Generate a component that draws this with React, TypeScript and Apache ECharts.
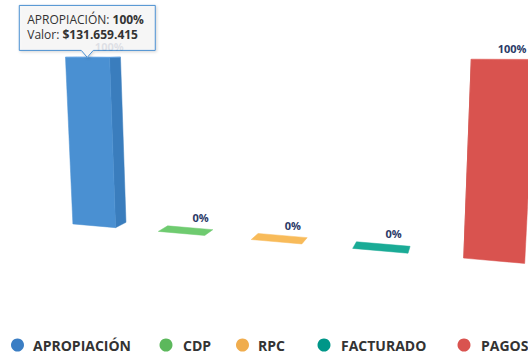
import React, { useEffect, useRef } from 'react';
import * as echarts from 'echarts';

// ---- data ----
const categories = ['APROPIACIÓN', 'CDP', 'RPC', 'FACTURADO', 'PAGOS'];
const percentValues = [100, 0, 0, 0, 100];
const tooltipIndex = 0;
const tooltipAmount = '$131.659.415';

// ---- palette ----
const legendColors = ['#3b7ec4', '#5cb85c', '#f0ad4e', '#009688', '#d9534f'];
const frontColors = ['#4a90d2', '#5cb85c', '#f0ad4e', '#009688', '#d9534f'];
const topColors = ['#5c9fe0', '#6fcb70', '#f8bb5a', '#1aab96', '#e36a66'];
const sideColors = ['#3a7dbd', '#4ca64c', '#dc9a3e', '#00867a', '#c4443f'];
const labelColor = '#2b3a67';
const FONT = '"Open Sans", "Noto Sans", sans-serif';

// ---- legend layout ----
const legendMarkerX = [17.5, 166, 242.5, 324, 464];
const legendTextX = [33, 183, 258, 341, 481];
const LEGEND_Y = 345;

// ---- 3D view ----
const ALPHA = 7.5;
const BETA = 16;
const FOCAL = 640;
const DIST = 640;
const OX = 285; // projection centre on screen
const OY = 130;
const GRID_LEFT = 0;
const GRID_SHIFT = 18.4; // flat plot is shifted by this much before projection
const Z_FRONT = -12;
const Z_BACK = 10;
const BAR_RATIO = 0.51;

const ca = Math.cos((ALPHA * Math.PI) / 180);
const sa = Math.sin((ALPHA * Math.PI) / 180);
const cb = Math.cos((BETA * Math.PI) / 180);
const sb = Math.sin((BETA * Math.PI) / 180);
const CAM = [sb * ca * DIST, -sa * DIST, -cb * ca * DIST];

function project(x: number, y: number, z: number): number[] {
  const x1 = cb * x + sb * z;
  const z1 = -sb * x + cb * z;
  const y2 = ca * y - sa * z1;
  const z2 = sa * y + ca * z1;
  const f = FOCAL / (z2 + DIST);
  return [OX + x1 * f, OY + y2 * f];
}

function renderItem(params: any, api: any) {
  const idx = api.value(0);
  const val = api.value(1);
  const top = api.coord([idx, val]);
  const base = api.coord([idx, 0]);
  const band = api.size([1, 0])[0];
  const hw = (band * BAR_RATIO) / 2;
  const cx = top[0] - GRID_LEFT + GRID_SHIFT - OX;
  const x0 = cx - hw;
  const x1 = cx + hw;
  const yT = top[1] - OY;
  const yB = base[1] - OY;
  const zF = Z_FRONT;
  const zB = Z_BACK;
  const children: any[] = [];
  const face = (pts: number[][], fill: string) => {
    children.push({
      type: 'polygon',
      shape: { points: pts.map((p) => project(p[0], p[1], p[2])) },
      style: { fill, stroke: fill, lineWidth: 0.5 },
    });
  };
  const hasHeight = yB - yT > 0.5;
  if (hasHeight && CAM[0] > x1) {
    face([[x1, yT, zF], [x1, yT, zB], [x1, yB, zB], [x1, yB, zF]], sideColors[idx]);
  }
  if (hasHeight && CAM[0] < x0) {
    face([[x0, yT, zB], [x0, yT, zF], [x0, yB, zF], [x0, yB, zB]], sideColors[idx]);
  }
  if (hasHeight && CAM[2] < zF) {
    face([[x0, yT, zF], [x1, yT, zF], [x1, yB, zF], [x0, yB, zF]], frontColors[idx]);
  }
  if (CAM[1] < yT) {
    face([[x0, yT, zB], [x1, yT, zB], [x1, yT, zF], [x0, yT, zF]], topColors[idx]);
  }
  const lp = project(cx, yT, zB);
  children.push({
    type: 'text',
    x: lp[0] + 10.5,
    y: lp[1] - 10.5,
    style: {
      text: val + '%',
      fill: labelColor,
      font: 'bold 11px ' + FONT,
      align: 'center',
      verticalAlign: 'middle',
    },
  });
  if (idx === tooltipIndex) {
    const tip = project(cx, yT, zF);
    const w = 136;
    const h = 45;
    const left = tip[0] - w / 2;
    const bottom = tip[1] - 7;
    const tp = bottom - h;
    children.push({
      type: 'polygon',
      z2: 50,
      shape: {
        points: [
          [left, tp],
          [left + w, tp],
          [left + w, bottom],
          [tip[0] + 6, bottom],
          [tip[0], tip[1]],
          [tip[0] - 6, bottom],
          [left, bottom],
        ],
      },
      style: {
        fill: 'rgba(248,248,248,0.86)',
        stroke: frontColors[idx],
        lineWidth: 1,
        shadowBlur: 3,
        shadowColor: 'rgba(0,0,0,0.18)',
        shadowOffsetX: 1,
        shadowOffsetY: 1,
      },
    });
    children.push({
      type: 'text',
      z2: 51,
      x: left + 8,
      y: tp + 7,
      style: {
        text:
          '{a|' + categories[idx] + ': }{b|' + val + '%}\n{a|Valor: }{b|' + tooltipAmount + '}',
        verticalAlign: 'top',
        align: 'left',
        rich: {
          a: { fontSize: 12, fontFamily: FONT, fill: '#333333', lineHeight: 15 },
          b: { fontSize: 12, fontFamily: FONT, fontWeight: 'bold', fill: '#333333', lineHeight: 15 },
        },
      },
    });
  }
  return { type: 'group', children };
}

export default function App() {
  const ref = useRef<HTMLDivElement>(null);
  useEffect(() => {
    if (!ref.current) return;
    const chart = echarts.init(ref.current, undefined, { renderer: 'svg' });
    const legendGraphics: any[] = [];
    categories.forEach((name, i) => {
      legendGraphics.push({
        type: 'circle',
        silent: true,
        shape: { cx: legendMarkerX[i], cy: LEGEND_Y, r: 6.5 },
        style: { fill: legendColors[i] },
      });
      legendGraphics.push({
        type: 'text',
        silent: true,
        x: legendTextX[i],
        y: LEGEND_Y,
        style: {
          text: name,
          fill: '#333333',
          font: 'bold 14px ' + FONT,
          align: 'left',
          verticalAlign: 'middle',
        },
      });
    });
    chart.setOption({
      animation: false,
      backgroundColor: '#ffffff',
      grid: {
        left: GRID_LEFT,
        top: 58.7,
        width: 521.75,
        height: 183.5,
        outerBoundsMode: 'none',
      },
      xAxis: { type: 'category', data: categories, show: false },
      yAxis: { type: 'value', min: 0, max: 100, show: false },
      graphic: legendGraphics,
      series: categories.map((name, i) => ({
        type: 'custom',
        name,
        color: legendColors[i],
        clip: false,
        silent: true,
        renderItem,
        data: [[i, percentValues[i]]],
      })),
    });
    return () => chart.dispose();
  }, []);
  return (
    <div
      ref={ref}
      style={{ position: 'absolute', left: 0, top: 0, width: 528, height: 354 }}
    />
  );
}
